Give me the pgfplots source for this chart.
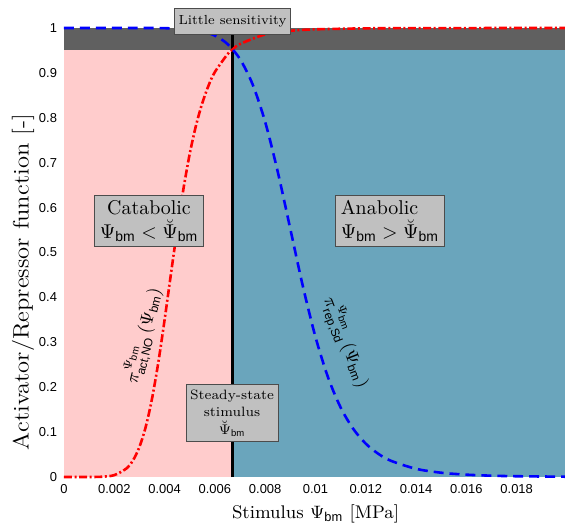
\documentclass[border=0pt]{standalone}
\usepackage{amsmath}
\usepackage{fontspec}
\setsansfont{Liberation Sans}
\usepackage{pgfplots}
\pgfplotsset{compat=1.18}
\definecolor{catab}{HTML}{FFCCCC}
\definecolor{anab}{HTML}{6AA5BC}
\definecolor{band}{HTML}{606060}
\definecolor{boxc}{HTML}{C0C0C0}
\newcommand{\bmsub}{\text{\sffamily bm}}
\tikzset{boxn/.style={draw=black!70, fill=boxc, align=center}}
\begin{document}
\begin{tikzpicture}
\begin{axis}[
  scale only axis, width=251.5bp, height=224.5bp,
  xmin=0, xmax=0.02, ymin=0, ymax=1,
  axis line style={draw=none}, tick style={draw=none},
  scaled x ticks=false, scaled y ticks=false,
  xtick={0,0.002,0.004,0.006,0.008,0.01,0.012,0.014,0.016,0.018},
  xticklabels={0,0.002,0.004,0.006,0.008,0.01,0.012,0.014,0.016,0.018},
  ytick={0,0.1,0.2,0.3,0.4,0.5,0.6,0.7,0.8,0.9,1},
  yticklabels={0,0.1,0.2,0.3,0.4,0.5,0.6,0.7,0.8,0.9,1},
  ticklabel style={font=\fontsize{6.5}{7}\sffamily},
  xlabel={Stimulus $\Psi_{\bmsub}$ [MPa]},
  ylabel={Activator/Repressor function [-]},
  xlabel style={font=\fontsize{9.2}{11}\selectfont, yshift=1bp},
  ylabel style={font=\fontsize{11.2}{13}\selectfont, xscale=1.1, at={(ticklabel cs:0.434)}, yshift=-4.5bp},
  clip=false,
]
\coordinate (ll) at (rel axis cs:0,0);
\coordinate (ur) at (rel axis cs:1,1);
% regions
\addplot[fill=catab, draw=none] coordinates {(0,0) (0.0067,0) (0.0067,0.95) (0,0.95)} -- cycle;
\addplot[fill=anab, draw=none] coordinates {(0.0067,0) (0.02,0) (0.02,0.95) (0.0067,0.95)} -- cycle;
\addplot[fill=band, draw=none] coordinates {(0,0.95) (0.02,0.95) (0.02,1) (0,1)} -- cycle;
\addplot[black, line width=2pt] coordinates {(0.0067,0) (0.0067,1)};
% activator (red)
\addplot[red, line width=1.3pt, smooth, dash pattern=on 4pt off 1.3pt on 1pt off 1.3pt] coordinates {
(0,0) (0.001,0) (0.0015,0.0006) (0.002,0.0042) (0.0025,0.0197) (0.00275,0.0376)
(0.003,0.0671) (0.00325,0.1117) (0.0035,0.1745) (0.00375,0.2552) (0.004,0.350)
(0.00425,0.4514) (0.0045,0.551) (0.00475,0.6418) (0.005,0.720) (0.00525,0.7831)
(0.0055,0.833) (0.00575,0.8722) (0.006,0.902) (0.0065,0.9415) (0.0067,0.952)
(0.007,0.9643) (0.008,0.9857) (0.009,0.9937) (0.010,0.997) (0.012,0.9992)
(0.014,0.9997) (0.017,0.9999) (0.02,1)};
% repressor (blue)
\addplot[blue, line width=1.3pt, smooth, dash pattern=on 5pt off 3pt] coordinates {
(0,1) (0.002,1) (0.003,1) (0.004,0.9996) (0.005,0.9970) (0.0055,0.9925)
(0.006,0.9830) (0.0065,0.9644) (0.007,0.9306) (0.0075,0.8744) (0.008,0.7905)
(0.0085,0.6795) (0.009,0.5521) (0.0095,0.4243) (0.010,0.3117) (0.0105,0.2217)
(0.011,0.1548) (0.0115,0.1072) (0.012,0.0742) (0.0125,0.0516) (0.013,0.0361)
(0.014,0.0182) (0.015,0.0095) (0.016,0.0052) (0.017,0.0029) (0.018,0.0017)
(0.02,0.0006)};
% annotations
\node[boxn, font=\fontsize{6.6}{8}\selectfont, inner xsep=2.2pt, inner ysep=3.4pt] at (axis cs:0.0067,1.0145) {Little sensitivity};
\node[boxn, font=\fontsize{10}{12}\selectfont, inner sep=2.5pt] at (axis cs:0.00338,0.570) {Catabolic\\$\Psi_{\bmsub} < \breve{\Psi}_{\bmsub}$};
\node[boxn, align=left, font=\fontsize{10}{12}\selectfont, inner sep=2.5pt] at (axis cs:0.01296,0.570) {Anabolic\\$\Psi_{\bmsub} > \breve{\Psi}_{\bmsub}$};
\node[boxn, font=\fontsize{6.8}{8.8}\selectfont, inner sep=2pt, inner ysep=2.6pt] at (axis cs:0.00668,0.1425) {Steady-state\\stimulus\\$\breve{\Psi}_{\bmsub}$};
\node[rotate=76, font=\fontsize{9}{10}\selectfont] at (axis cs:0.00316,0.315) {$\pi^{\Psi_{\bmsub}}_{\text{\sffamily act,NO}}\left(\Psi_{\bmsub}\right)$};
\node[rotate=-69, font=\fontsize{9}{10}\selectfont] at (axis cs:0.0112,0.30) {$\pi^{\Psi_{\bmsub}}_{\text{\sffamily rep,Sd}}\left(\Psi_{\bmsub}\right)$};
\end{axis}
\pgfresetboundingbox
\path ([shift={(-32bp,-24.5bp)}]ll) rectangle ([shift={(-1bp,14bp)}]ur);
\end{tikzpicture}
\end{document}
